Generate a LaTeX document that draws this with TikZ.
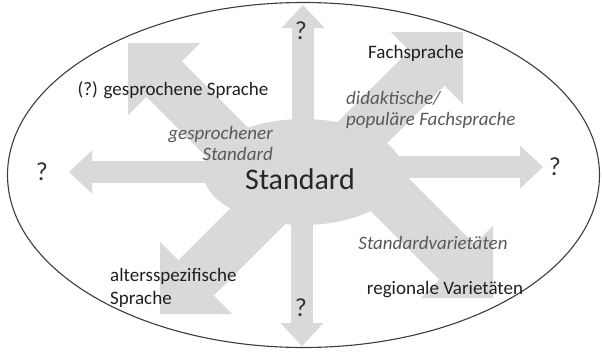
\documentclass[tikz,border=0pt]{standalone}
\usepackage{fontspec}
\setmainfont{Carlito}
\usetikzlibrary{arrows.meta,shapes.geometric}
\definecolor{arrowgray}{RGB}{217,217,217}
\definecolor{textgray}{RGB}{89,89,89}
\definecolor{rimgray}{RGB}{60,60,60}

\begin{document}
\begin{tikzpicture}[x=1pt,y=-1pt,
  thin arrow/.style={draw=arrowgray,line width=22pt,-{Triangle[length=23pt,width=43pt,line width=0pt]}},
  wide arrow/.style={draw=arrowgray,line width=50pt,-{Triangle[length=51pt,width=102pt,line width=0pt]}},
  term/.style={inner sep=0pt,text=black!88,font=\fontsize{19}{23}\selectfont},
  variant/.style={inner sep=0pt,text=textgray,font=\fontsize{19}{21}\selectfont\itshape},
  query/.style={inner sep=0pt,text=black!80,font=\fontsize{26}{30}\selectfont}]
  \useasboundingbox (0,0) rectangle (602,351);

  % outer ellipse
  \draw[rimgray,line width=1.1pt] (303.5,175) ellipse [x radius=296, y radius=172.5];

  % tips and tails of the arrows
  \coordinate (n) at (303,5);
  \coordinate (s) at (302,346);
  \coordinate (w) at (69,172);
  \coordinate (e) at (543,167);
  \coordinate (nw) at (128,43);
  \coordinate (ne) at (463,32);
  \coordinate (sw) at (160,314);
  \coordinate (se) at (493,298);
  \coordinate (nw0) at (240,155);
  \coordinate (ne0) at (340,155);
  \coordinate (sw0) at (290,184);
  \coordinate (se0) at (360,165);

  \begin{scope}
    \path (nw0) edge[wide arrow] (nw);
    \path (ne0) edge[wide arrow] (ne);
    \path (sw0) edge[wide arrow] (sw);
    \path (se0) edge[wide arrow] (se);
    \path (303,172) edge[thin arrow] (n);
    \path (302,172) edge[thin arrow] (s);
    \path (300,172) edge[thin arrow] (w);
    \path (300,167) edge[thin arrow] (e);
  \end{scope}

  \node[ellipse,fill=arrowgray,minimum width=200pt,minimum height=106pt] (hub) at (303,172) {};

  % labels
  \node[inner sep=0pt,text=black!85,font=\fontsize{30}{34}\selectfont] (std) at (300,179) {Standard};
  \node[term] (spoken) at (173,90) {(?) gesprochene Sprache};
  \node[variant,align=right,anchor=east] (spokenstd) at (273,143) {gesprochener\\Standard};
  \node[term] (tech) at (416,53) {Fachsprache};
  \node[variant,align=left,anchor=west] (poptech) at (346,110) {didaktische/\\populäre Fachsprache};
  \node[term,align=left,anchor=west] (age) at (110,288) {altersspezifische\\Sprache};
  \node[variant] (stdvar) at (433,243) {Standardvarietäten};
  \node[term] (regvar) at (445,290) {regionale Varietäten};
  \node[query] (qn) at (301,31) {?};
  \node[query] (qs) at (301,308) {?};
  \node[query] (qw) at (42,172) {?};
  \node[query] (qe) at (555,167) {?};
\end{tikzpicture}
\end{document}
